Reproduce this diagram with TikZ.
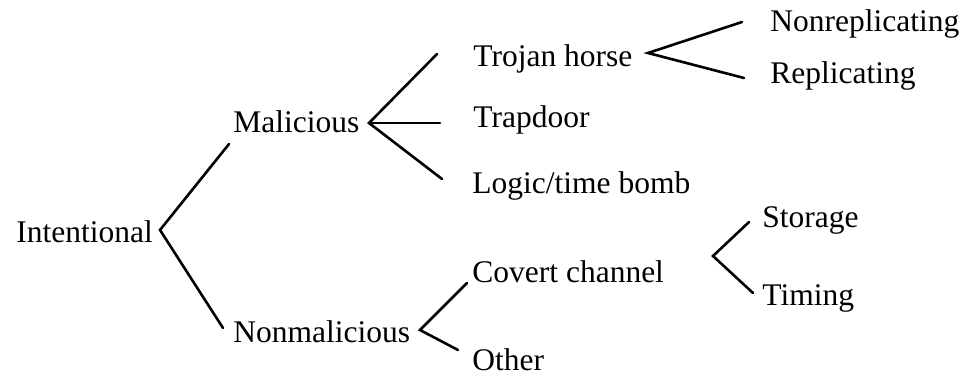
\documentclass[tikz,border=0pt]{standalone}
\usepackage{fontspec}
\setmainfont{Liberation Serif}
\usetikzlibrary{positioning}
\tikzset{
  lbl/.style={anchor=base west, inner sep=0pt, font=\fontsize{15.75}{18}\selectfont},
  branch/.style={line width=1.3pt, line cap=round}
}

\begin{document}
\begin{tikzpicture}[x=0.5pt, y=-0.5pt]
\useasboundingbox (0,0) rectangle (961,375);
% labels
\node[lbl] (int) at (16,242) {Intentional};
\node[lbl] (mal) at (233,132) {Malicious};
\node[lbl] (nonmal) at (233,342) {Nonmalicious};
\node[lbl] (trojan) at (473,66) {Trojan horse};
\node[lbl] (trap) at (473,127) {Trapdoor};
\node[lbl] (bomb) at (472,193) {Logic/time bomb};
\node[lbl] (covert) at (472,282) {Covert channel};
\node[lbl] (other) at (472,370) {Other};
\node[lbl] (nonrep) at (770,32) {Nonreplicating};
\node[lbl] (rep) at (770,83) {Replicating};
\node[lbl] (stor) at (762,227) {Storage};
\node[lbl] (tim) at (762,305) {Timing};
% fork points
\coordinate (int-r) at (160,230);
\coordinate (mal-l) at (229,144);
\coordinate (nonmal-l) at (223,328);
\coordinate (mal-r) at (369,123);
\coordinate (trojan-l) at (437,54);
\coordinate (trap-l) at (440,123);
\coordinate (bomb-l) at (442,179);
\coordinate (trojan-r) at (648,53);
\coordinate (nonrep-l) at (742,22);
\coordinate (rep-l) at (744,78);
\coordinate (nonmal-r) at (420,330);
\coordinate (covert-l) at (467,283);
\coordinate (other-l) at (458,350);
\coordinate (covert-r) at (713,256);
\coordinate (stor-l) at (749,222);
\coordinate (tim-l) at (753,293);
% branches
\draw[branch] (mal-l) -- (int-r) -- (nonmal-l);
\draw[branch] (trojan-l) -- (mal-r) -- (bomb-l);
\draw[branch] (mal-r) -- (trap-l);
\draw[branch] (nonrep-l) -- (trojan-r) -- (rep-l);
\draw[branch] (covert-l) -- (nonmal-r) -- (other-l);
\draw[branch] (stor-l) -- (covert-r) -- (tim-l);
\end{tikzpicture}
\end{document}
